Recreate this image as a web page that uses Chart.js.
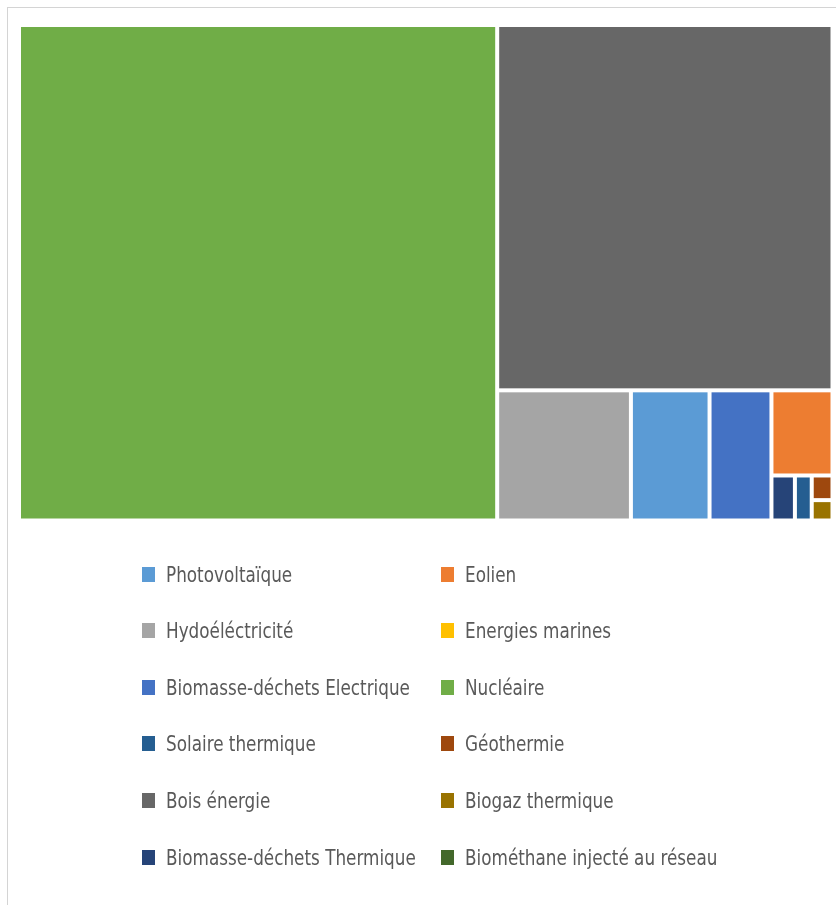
<!DOCTYPE html>
<html lang="fr">
<head>
<meta charset="utf-8">
<title>Production par filière</title>
<script src="https://cdn.jsdelivr.net/npm/chart.js@4/dist/chart.umd.min.js"></script>
<style>
  html, body { margin: 0; padding: 0; background: #fff; }
  body { width: 836px; height: 905px; position: relative; overflow: hidden; }
  #frame {
    position: absolute; left: 7px; top: 7px; width: 840px; height: 910px;
    border-left: 1.5px solid #d4d4d4; border-top: 1.5px solid #d4d4d4;
  }
  #wrap { position: absolute; left: 0; top: 0; width: 836px; height: 540px; }
  #legend { position: absolute; left: 0; top: 0; width: 836px; height: 905px; pointer-events: none; }
  .lg-item {
    position: absolute; display: flex; align-items: center; height: 30px;
    font-family: "DejaVu Sans Condensed", "Roboto", sans-serif;
    font-size: 22px; color: #595959; white-space: nowrap;
  }
  .lg-box { width: 13px; height: 15px; margin-right: 11px; flex: none; }
  .lg-text { display: inline-block; transform: scaleX(0.85); transform-origin: left center; }
</style>
</head>
<body>
<div id="frame"></div>
<div id="wrap"><canvas id="chart-treemap"></canvas></div>
<div id="legend"></div>

<script>
// ── Données ───────────────────────────────────────────────────────────────────
const filieres = [
  'Photovoltaïque', 'Eolien',
  'Hydoéléctricité', 'Energies marines',
  'Biomasse-déchets Electrique', 'Nucléaire',
  'Solaire thermique', 'Géothermie',
  'Bois énergie', 'Biogaz thermique',
  'Biomasse-déchets Thermique', 'Biométhane injecté au réseau',
];
// production (GWh, estimée d'après la surface des cellules)
const production = [2540, 1290, 4320, 0, 2000, 58800, 188, 127, 30400, 105, 262, 0];
const couleurs = [
  '#5B9BD5', '#ED7D31',
  '#A5A5A5', '#FFC000',
  '#4472C4', '#70AD47',
  '#255E91', '#9E480E',
  '#676767', '#997300',
  '#264478', '#43682B',
];

// ── Layout treemap (une bande par cellule, façon Excel) ───────────────────────
// w, h : dimensions réelles en px pour choisir l'orientation ; résultat en fractions 0..1
function layoutTreemap(values, w, h) {
  const items = values.map((v, i) => ({ i, v })).filter(d => d.v > 0).sort((a, b) => b.v - a.v);
  let rest = items.reduce((s, d) => s + d.v, 0);
  let x = 0, y = 0, rw = 1, rh = 1;
  const rects = [];
  items.forEach((d, k) => {
    const last = k === items.length - 1;
    const frac = last ? 1 : d.v / rest;
    if (rw * w * 1.3 >= rh * h) {
      const cw = rw * frac;
      rects.push({ i: d.i, x0: x, y0: y, x1: x + cw, y1: y + rh });
      x += cw; rw -= cw;
    } else {
      const ch = rh * frac;
      rects.push({ i: d.i, x0: x, y0: y, x1: x + rw, y1: y + ch });
      y += ch; rh -= ch;
    }
    rest -= d.v;
  });
  return rects;
}

// ── Plugin : dessine les cellules via les échelles x / y ──────────────────────
const treemapPlugin = {
  id: 'treemapCells',
  afterDatasetsDraw(chart) {
    const { ctx, chartArea: a, scales: { x, y } } = chart;
    const rects = layoutTreemap(production, a.right - a.left, a.bottom - a.top);
    const gap = 2;
    ctx.save();
    rects.forEach(r => {
      const px0 = x.getPixelForValue(r.x0 * 100) + gap;
      const px1 = x.getPixelForValue(r.x1 * 100) - gap;
      const py0 = y.getPixelForValue(r.y0 * 100) + gap;
      const py1 = y.getPixelForValue(r.y1 * 100) - gap;
      ctx.fillStyle = couleurs[r.i];
      ctx.fillRect(px0, py0, px1 - px0, py1 - py0);
    });
    ctx.restore();
  },
};

new Chart(document.getElementById('chart-treemap'), {
  type: 'scatter',
  data: { datasets: [{ label: 'cellules', data: [] }] },
  options: {
    responsive: true,
    maintainAspectRatio: false,
    animation: false,
    layout: { padding: { left: 19, top: 25, right: 3.5, bottom: 19.5 } },
    plugins: { legend: { display: false }, tooltip: { enabled: false } },
    scales: {
      x: { type: 'linear', min: 0, max: 100, display: false },
      y: { type: 'linear', min: 0, max: 100, reverse: true, display: false },
    },
  },
  plugins: [treemapPlugin],
});

// ── Légende (2 colonnes) ──────────────────────────────────────────────────────
const legend = document.getElementById('legend');
filieres.forEach((nom, i) => {
  const col = i % 2, row = Math.floor(i / 2);
  const el = document.createElement('div');
  el.className = 'lg-item';
  el.style.left = (col ? 441 : 142) + 'px';
  el.style.top = (574 + row * 56.6 - 15) + 'px';
  el.innerHTML = `<span class="lg-box" style="background:${couleurs[i]}"></span><span class="lg-text">${nom}</span>`;
  legend.appendChild(el);
});
</script>
</body>
</html>
